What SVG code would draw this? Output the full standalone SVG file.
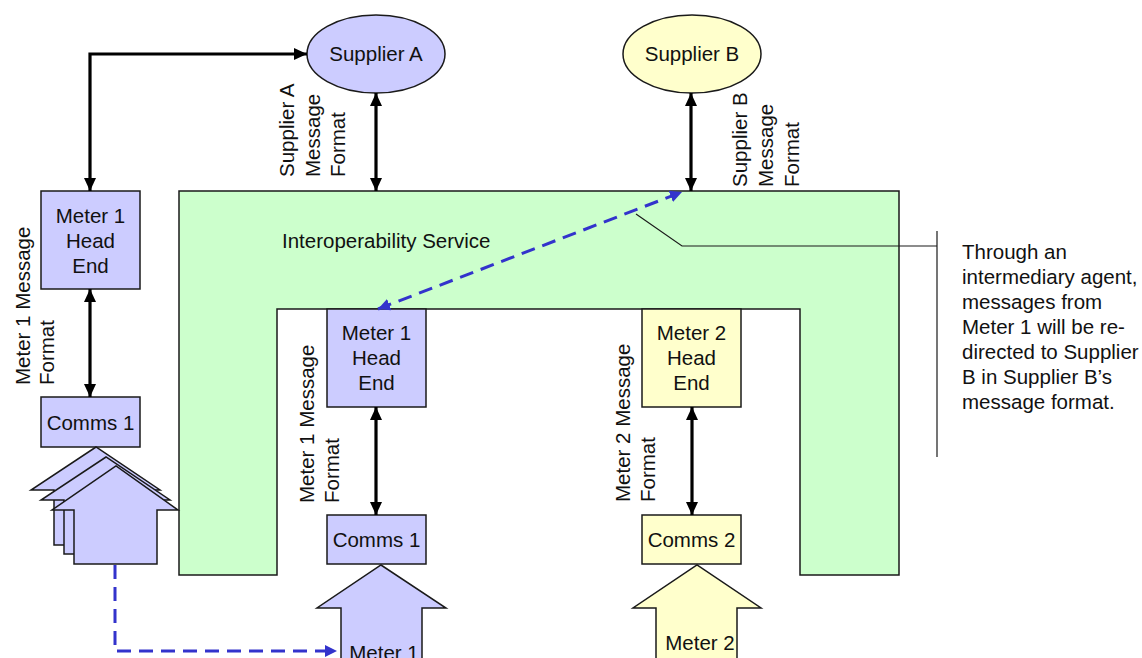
<svg xmlns="http://www.w3.org/2000/svg" width="1142" height="658" viewBox="0 0 1142 658">
  <style>
    text { font-family: "Liberation Sans", Arial, sans-serif; font-size: 20.5px; fill: #111; }
    .mid { text-anchor: middle; }
    .box { stroke: #1a1a1a; stroke-width: 1.5; }
    .blue { fill: #ccccff; }
    .yellow { fill: #ffffcc; }
    .green { fill: #ccffcc; }
    .link { fill: none; stroke: #000; stroke-width: 3.2; }
    .dash { fill: none; stroke: #3333cc; stroke-width: 3; stroke-dasharray: 14 8; }
    .thin { fill: none; stroke: #1a1a1a; stroke-width: 1.2; }
  </style>
  <defs>
    <marker id="ah" markerUnits="userSpaceOnUse" markerWidth="13" markerHeight="12" refX="13" refY="6" orient="auto-start-reverse">
      <path d="M0,0 L13,6 L0,12 z" fill="#000"/>
    </marker>
    <marker id="bh" markerUnits="userSpaceOnUse" markerWidth="12" markerHeight="12" refX="12" refY="6" orient="auto-start-reverse">
      <path d="M0,0 L12,6 L0,12 z" fill="#3333cc"/>
    </marker>
  </defs>

  <rect width="1142" height="658" fill="#fff"/>

  <!-- Interoperability service frame -->
  <g id="interop">
    <path class="box green" d="M179,191 H899 V575 H800 V309 H277 V575 H179 Z"/>
    <text x="282" y="248">Interoperability Service</text>
  </g>

  <!-- Suppliers -->
  <g id="supplierA">
    <ellipse class="box blue" cx="376" cy="54" rx="69" ry="39"/>
    <text class="mid" x="376" y="61">Supplier A</text>
  </g>
  <g id="supplierB">
    <ellipse class="box yellow" cx="692" cy="54" rx="69" ry="39"/>
    <text class="mid" x="692" y="61">Supplier B</text>
  </g>

  <!-- Left-hand chain -->
  <g id="headEndLeft">
    <rect class="box blue" x="41" y="191" width="99" height="98"/>
    <text class="mid" x="90.5" y="223">Meter 1</text>
    <text class="mid" x="90.5" y="248">Head</text>
    <text class="mid" x="90.5" y="273">End</text>
  </g>
  <g id="commsLeft">
    <rect class="box blue" x="41" y="397" width="99" height="50"/>
    <text class="mid" x="90.5" y="430">Comms 1</text>
  </g>
  <g id="metersLeft">
    <path class="box blue" d="M54,490 H31 L96,447 L160,490 H136 V545 H54 Z"/>
    <path class="box blue" d="M64,500 H41 L106,457 L170,500 H146 V554 H64 Z"/>
    <path class="box blue" d="M74,510 H52 L116,466 L178,510 H157 V564 H74 Z"/>
  </g>

  <!-- Centre chain (Meter 1) -->
  <g id="headEnd1">
    <rect class="box blue" x="327" y="309" width="99" height="98"/>
    <text class="mid" x="376.5" y="340">Meter 1</text>
    <text class="mid" x="376.5" y="365">Head</text>
    <text class="mid" x="376.5" y="390">End</text>
  </g>
  <g id="comms1">
    <rect class="box blue" x="327" y="515" width="99" height="49"/>
    <text class="mid" x="376.5" y="547">Comms 1</text>
  </g>
  <g id="meter1">
    <path class="box blue" d="M341,670 V608 H317 L381,565 L446,608 H422 V670"/>
    <text class="mid" x="384" y="660">Meter 1</text>
  </g>

  <!-- Centre chain (Meter 2) -->
  <g id="headEnd2">
    <rect class="box yellow" x="642" y="309" width="99" height="98"/>
    <text class="mid" x="691.5" y="340">Meter 2</text>
    <text class="mid" x="691.5" y="365">Head</text>
    <text class="mid" x="691.5" y="390">End</text>
  </g>
  <g id="comms2">
    <rect class="box yellow" x="642" y="515" width="99" height="49"/>
    <text class="mid" x="691.5" y="547">Comms 2</text>
  </g>
  <g id="meter2">
    <path class="box yellow" d="M656,670 V608 H633 L697,565 L761,608 H737 V670"/>
    <text class="mid" x="700" y="650">Meter 2</text>
  </g>

  <!-- Connectors -->
  <g id="connectors">
    <path class="link" d="M90,191 V54 H307" marker-start="url(#ah)" marker-end="url(#ah)"/>
    <path class="link" d="M376,93 V191" marker-start="url(#ah)" marker-end="url(#ah)"/>
    <path class="link" d="M691,93 V191" marker-start="url(#ah)" marker-end="url(#ah)"/>
    <path class="link" d="M90,289 V397" marker-start="url(#ah)" marker-end="url(#ah)"/>
    <path class="link" d="M376,407 V515" marker-start="url(#ah)" marker-end="url(#ah)"/>
    <path class="link" d="M692,407 V515" marker-start="url(#ah)" marker-end="url(#ah)"/>
    <path class="dash" d="M378,309 L682,192" marker-start="url(#bh)" marker-end="url(#bh)"/>
    <path class="dash" d="M115,565 V651 H337" marker-end="url(#bh)"/>
  </g>

  <!-- Rotated format labels -->
  <g id="labels">
    <text transform="translate(294,177) rotate(-90)">Supplier A</text>
    <text transform="translate(320,177) rotate(-90)">Message</text>
    <text transform="translate(345,177) rotate(-90)">Format</text>
    <text transform="translate(747,187) rotate(-90)">Supplier B</text>
    <text transform="translate(773,187) rotate(-90)">Message</text>
    <text transform="translate(799,187) rotate(-90)">Format</text>
    <text transform="translate(30,385) rotate(-90)">Meter 1 Message</text>
    <text transform="translate(54,385) rotate(-90)">Format</text>
    <text transform="translate(314,503) rotate(-90)">Meter 1 Message</text>
    <text transform="translate(339,503) rotate(-90)">Format</text>
    <text transform="translate(630,502) rotate(-90)">Meter 2 Message</text>
    <text transform="translate(655,502) rotate(-90)">Format</text>
  </g>

  <!-- Callout -->
  <g id="callout">
    <path class="thin" d="M636,214 L682,246 H937"/>
    <path class="thin" d="M937,231 V457"/>
    <text x="962" y="259">Through an</text>
    <text x="962" y="284">intermediary agent,</text>
    <text x="962" y="309">messages from</text>
    <text x="962" y="334">Meter 1 will be re-</text>
    <text x="962" y="359">directed to Supplier</text>
    <text x="962" y="384">B in Supplier B’s</text>
    <text x="962" y="409">message format.</text>
  </g>
</svg>
